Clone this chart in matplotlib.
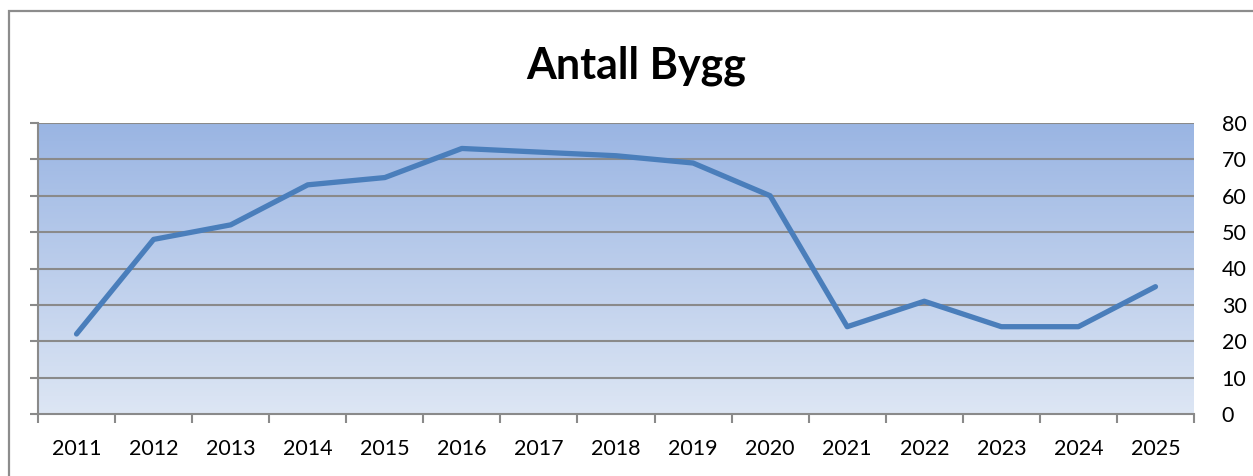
import matplotlib
matplotlib.use("Agg")
import matplotlib.pyplot as plt
import numpy as np
from matplotlib.patches import Rectangle
from matplotlib.colors import LinearSegmentedColormap

years = ["2011", "2012", "2013", "2014", "2015", "2016", "2017", "2018",
         "2019", "2020", "2021", "2022", "2023", "2024", "2025"]
antall = [22, 48, 52, 63, 65, 73, 72, 71, 69, 60, 24, 31, 24, 24, 35]
yticks = [0, 10, 20, 30, 40, 50, 60, 70, 80]
title = "Antall Bygg"

plt.rcParams['font.family'] = ['Lato', 'DejaVu Sans']

W, H = 1253, 476
fig = plt.figure(figsize=(W / 100, H / 100), dpi=100)
fig.patch.set_facecolor('white')

# outer chart border (right/bottom edges lie outside the image)
fig.patches.append(Rectangle((9 / W, -0.1), 1.2, 1 - 11 / H + 0.1,
                             transform=fig.transFigure, fill=False,
                             edgecolor='#8c8c8c', linewidth=1.6))

ax = fig.add_axes([38 / W, 1 - 414 / H, (1194 - 38) / W, (414 - 123) / H])
n = len(years)
ax.set_xlim(-0.5, n - 0.5)
ax.set_ylim(0, 80)

# gradient background
cmap = LinearSegmentedColormap.from_list('bg', ['#dde6f4', '#9ab5e3'])
grad = np.linspace(0, 1, 256).reshape(-1, 1)
ax.imshow(grad, extent=(-0.5, n - 0.5, 0, 80), origin='lower', aspect='auto',
          cmap=cmap, zorder=0)

# gridlines
for v in yticks[1:]:
    ax.axhline(v, color='#8a8a8a', linewidth=1.5, zorder=1)

ax.plot(range(n), antall, color='#4a7ebb', linewidth=3.8,
        solid_joinstyle='round', solid_capstyle='round', zorder=3)

for s in ['top', 'right']:
    ax.spines[s].set_visible(False)
for s in ['left', 'bottom']:
    ax.spines[s].set_color('#8a8a8a')
    ax.spines[s].set_linewidth(1.5)
    ax.spines[s].set_zorder(2)

# x axis: tick marks between categories, labels at centres
ax.set_xticks(np.arange(-0.5, n, 1.0))
ax.set_xticklabels([])
ax.set_xticks(range(n), minor=True)
ax.set_xticklabels(years, minor=True)
ax.tick_params(axis='x', which='major', length=6.5, width=1.5, color='#8a8a8a',
               direction='out')
ax.tick_params(axis='x', which='minor', length=0, pad=18, labelsize=15.5)

# y axis: ticks on left, labels on right
ax.set_yticks(yticks)
ax.set_yticklabels([str(v) for v in yticks])
ax.tick_params(axis='y', left=True, right=False, labelleft=False, labelright=True,
               length=6, width=1.5, color='#8a8a8a', direction='out',
               pad=14, labelsize=15.5)

fig.text(636 / W, 1 - 79 / H, title, ha='center', va='baseline',
         fontsize=31, fontweight='bold')

fig.savefig('out.png', dpi=100)
